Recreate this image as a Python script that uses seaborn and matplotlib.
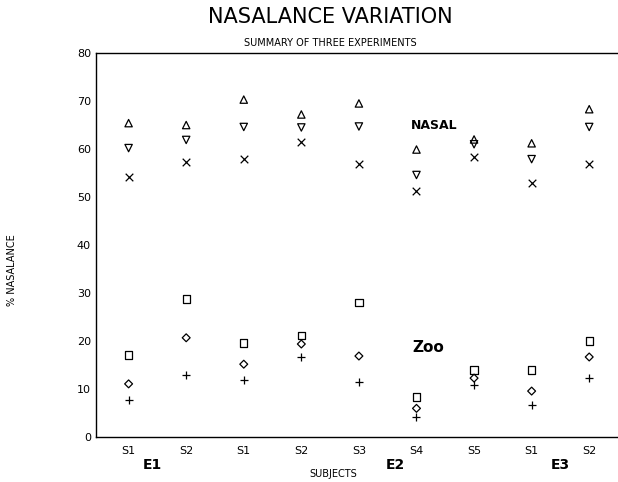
import matplotlib

matplotlib.use("Agg")
import matplotlib.pyplot as plt
import numpy as np
import pandas as pd
import seaborn as sns

# subjects along x (grouped by experiment E1, E2, E3)
subjects = ["S1", "S2", "S1", "S2", "S3", "S4", "S5", "S1", "S2"]
experiments = ["E1", "E2", "E3"]

# nasal sentences (three measures)
nasal_up = [65.4, 65.0, 70.3, 67.2, 69.5, 59.9, 62.0, 61.2, 68.3]
nasal_down = [60.2, 61.9, 64.6, 64.5, 64.7, 54.6, 61.0, 57.9, 64.6]
nasal_x = [54.2, 57.3, 57.9, 61.5, 56.9, 51.3, 58.3, 52.9, 56.9]

# zoo passage (three measures)
zoo_square = [17.1, 28.8, 19.6, 21.2, 28.0, 8.4, 14.0, 14.0, 20.0]
zoo_diamond = [11.1, 20.7, 15.2, 19.4, 16.9, 6.0, 12.3, 9.6, 16.7]
zoo_plus = [7.7, 12.9, 11.9, 16.7, 11.5, 4.3, 10.8, 6.7, 12.3]

series = {
    "nasal_up": (nasal_up, "^", True, 28),
    "nasal_down": (nasal_down, "v", True, 28),
    "nasal_x": (nasal_x, "x", False, 30),
    "zoo_square": (zoo_square, "s", True, 28),
    "zoo_diamond": (zoo_diamond, "D", True, 16),
    "zoo_plus": (zoo_plus, "+", False, 30),
}

sns.set_style("white")
plt.rcParams["font.family"] = ["DejaVu Sans"]
plt.rcParams["text.color"] = "black"

fig = plt.figure(figsize=(6.18, 4.82), dpi=100)
ax = fig.add_axes([0.155, 0.093, 0.845, 0.797])

pos = np.arange(len(subjects))
for name, (vals, marker, hollow, size) in series.items():
    df = pd.DataFrame({"pos": pos, "value": vals})
    if hollow:
        sns.scatterplot(data=df, x="pos", y="value", marker=marker, s=size,
                        facecolor="none", edgecolor="black", linewidth=0.9, ax=ax)
    else:
        sns.scatterplot(data=df, x="pos", y="value", marker=marker, s=size,
                        color="black", linewidth=0.9, ax=ax)

ax.set_xlim(-0.57, 8.5)
ax.set_ylim(0, 80)
ax.set_yticks(range(0, 81, 10))
ax.set_xticks(pos, subjects)
ax.tick_params(direction="in", length=5, width=0.8, labelsize=8, colors="black")
ax.tick_params(axis="x", pad=6)
ax.set_xlabel("")
ax.set_ylabel("")
for side in ["left", "top", "bottom"]:
    ax.spines[side].set_color("black")
    ax.spines[side].set_linewidth(1.0)
ax.spines["right"].set_visible(False)

ax.text(5.3, 65, "NASAL", fontsize=9, fontweight="bold", ha="center", va="center")
ax.text(5.2, 18.6, "Zoo", fontsize=11, fontweight="bold", ha="center", va="center")

fig.text(0.535, 0.965, "NASALANCE VARIATION", fontsize=15, ha="center", va="center")
fig.text(0.535, 0.91, "SUMMARY OF THREE EXPERIMENTS", fontsize=7, ha="center", va="center")
fig.text(0.54, 0.017, "SUBJECTS", fontsize=7, ha="center", va="center")
fig.text(0.02, 0.44, "% NASALANCE", fontsize=7, rotation=90, ha="center", va="center")
for lbl, xp in zip(experiments, [152, 395, 560]):
    fig.text(xp / 618, 1 - 465 / 482, lbl, fontsize=10, fontweight="bold",
             ha="center", va="center")

fig.savefig("out.png", dpi=100)
